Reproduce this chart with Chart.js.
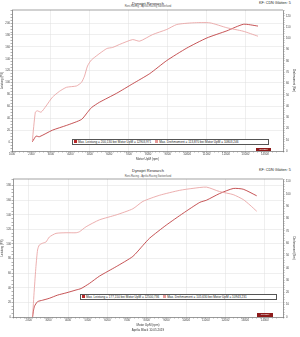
<!DOCTYPE html>
<html>
<head>
<meta charset="utf-8">
<script src="https://cdn.jsdelivr.net/npm/chart.js@4.4.1/dist/chart.umd.min.js"></script>
<style>
  body { margin: 0; background: #fff; }
  #wrap { position: relative; width: 300px; height: 337px; overflow: hidden; font-family: "Liberation Sans", Arial, sans-serif; color: #222; }
  canvas { position: absolute; left: 0; }
  .txt { position: absolute; white-space: nowrap; line-height: 1; }
  .title { font-size: 4px; left: 0; width: 296px; text-align: center; }
  .sub { font-size: 2.6px; left: 0; width: 296px; text-align: center; color: #555; }
  .kf { font-size: 3.7px; left: 259px; }
  .leg { position: absolute; height: 4px; border: 0.5px solid #555; background: #fff; font-size: 3.1px; line-height: 4px; white-space: nowrap; display: flex; align-items: center; }
  .leg i { display: inline-block; width: 3px; height: 3px; margin: 0 1px; }
  .logo { position: absolute; height: 3.5px; background: #8e1b1b; font-size: 2.4px; line-height: 3.5px; color: #fff; text-align: center; font-style: italic; }
</style>
</head>
<body>
<div id="wrap">
  <div class="txt title" style="top:1.5px">Dynojet Research</div>
  <div class="txt sub" style="top:6.2px">Roni-Racing - Aprilia Racing Switzerland</div>
  <div class="txt kf" style="top:1.5px">KF: CDN Glätten: 5</div>
  <canvas id="top" width="300" height="162" style="top:0"></canvas>

  <div class="txt title" style="top:169px">Dynojet Research</div>
  <div class="txt sub" style="top:175.5px">Roni-Racing - Aprilia Racing Switzerland</div>
  <div class="txt kf" style="top:169px">KF: CDN Glätten: 5</div>
  <canvas id="bottom" width="300" height="175" style="top:162px"></canvas>

  <div class="leg" id="legTop" style="left:72px; top:138.5px; width:195px;"></div>
  <div class="leg" id="legBottom" style="left:80px; top:293.5px; width:195px;"></div>

  <div class="logo" style="left:256px; top:147.5px; width:15px;">Dynojet</div>
  <div class="logo" style="left:257px; top:313px; width:16px;">Dynojet</div>
</div>

<script>
// Lauf 1 (oben)
const rpmTopPower = [2046, 2237, 2407, 3077, 3799, 4572, 4881, 5088, 5500, 6376, 7201, 8077, 8954, 9985, 11015, 12046, 12900, 13644];
const powerTop = [0.5, 10, 9, 20, 28, 38, 50, 58, 67, 82, 98, 115, 137, 158, 175, 187, 198, 195];
const rpmTopTorque = [2046, 2200, 2304, 2495, 2753, 3077, 3438, 3799, 4314, 4572, 4727, 4881, 5088, 5866, 6170, 6531, 7201, 7562, 8232, 8954, 9469, 10294, 11170, 12046, 12871, 13644];
const torqueTop = [9, 34.5, 35.7, 34.5, 40, 47.8, 53, 56.6, 57.8, 61, 66.6, 75.5, 81, 91, 92, 94.7, 99, 97.6, 103.5, 108, 112.4, 113.9, 113.9, 109.5, 106.5, 102];

// Lauf 2 (unten)
const rpmBottomPower = [2194, 2281, 2449, 2704, 3046, 3469, 3898, 4408, 4663, 5087, 5597, 6449, 7296, 7806, 8148, 9000, 9847, 10699, 11041, 11699, 12398, 12908, 13592];
const powerBottom = [0, 14, 21, 23, 25.6, 30, 33, 37, 39, 46, 56, 69, 83, 98, 108, 126, 142, 157, 160, 169, 176, 175, 166];
const rpmBottomTorque = [2194, 2281, 2367, 2449, 2536, 2704, 2878, 3046, 3388, 3898, 4408, 4577, 4918, 5597, 6449, 7296, 7806, 8658, 9679, 10357, 11041, 11699, 12398, 12908, 13250, 13592];
const torqueBottom = [0, 22, 41, 54.5, 58.5, 60, 61, 65, 68, 68.5, 68.5, 69.3, 73.4, 79, 83, 88, 94, 99, 103, 104.6, 105.6, 102, 99.5, 95.5, 91, 86];

// Legendentexte
const legendTop = ['Max. Leistung = 200,130 bei Motor UpM = 12903,971', 'Max. Drehmoment = 113,870 bei Motor UpM = 10803,246'];
const legendBottom = ['Max. Leistung = 177,150 bei Motor UpM = 12500,736', 'Max. Drehmoment = 105,630 bei Motor UpM = 10943,231'];

const POWER_COLOR = '#b8282b';
const TORQUE_COLOR = '#e79a9a';

const toPoints = (xs, ys) => xs.map((x, i) => ({ x: x, y: ys[i] }));

// Rahmen oben um die Plotfläche
const frame = {
    id: 'frame',
    afterDraw(chart) {
        const a = chart.chartArea;
        const ctx = chart.ctx;
        ctx.save();
        ctx.strokeStyle = '#666';
        ctx.lineWidth = 0.6;
        ctx.beginPath();
        ctx.moveTo(a.left, a.top);
        ctx.lineTo(a.right, a.top);
        ctx.stroke();
        ctx.restore();
    }
};

function makeChart(id, o) {
    const tickFont = { size: 2.8, family: 'Liberation Sans' };
    return new Chart(document.getElementById(id), {
        type: 'line',
        data: {
            datasets: [
                { data: toPoints(o.rpmT, o.torque), yAxisID: 'yR', borderColor: TORQUE_COLOR, borderWidth: 0.8 },
                { data: toPoints(o.rpmP, o.power), yAxisID: 'yL', borderColor: POWER_COLOR, borderWidth: 0.8 }
            ]
        },
        options: {
            responsive: false,
            animation: false,
            layout: { padding: { top: o.padTop } },
            elements: { point: { radius: 0 }, line: { tension: 0.2 } },
            plugins: { legend: { display: false }, tooltip: { enabled: false } },
            scales: {
                x: {
                    type: 'linear',
                    min: o.xMin,
                    max: o.xMax,
                    afterFit: s => { s.height = o.xHeight; },
                    ticks: {
                        stepSize: 200,
                        autoSkip: false,
                        maxRotation: 0,
                        font: tickFont,
                        color: '#444',
                        padding: 0.5,
                        callback: v => Math.round(v) % 1000 === 0 ? String(Math.round(v)) : ''
                    },
                    grid: {
                        color: c => (c.tick && Math.round(c.tick.value - o.gridStart) % 2000 === 0) ? '#dedede' : 'rgba(0,0,0,0)',
                        tickColor: '#666',
                        tickLength: 1.5,
                        lineWidth: 0.5
                    },
                    border: { color: '#555', width: 0.6 },
                    title: {
                        display: true,
                        text: o.xTitle,
                        font: { size: 3, family: 'Liberation Sans', lineHeight: 1.5 },
                        color: '#333',
                        padding: { top: 0, bottom: o.xTitlePad }
                    }
                },
                yL: {
                    position: 'left',
                    min: o.lMin,
                    max: o.lMax,
                    afterFit: s => { s.width = o.lWidth; },
                    ticks: {
                        stepSize: 5,
                        autoSkip: false,
                        font: tickFont,
                        color: '#444',
                        padding: 0.5,
                        callback: v => (Math.round(v) % 20 === 0 && v >= 0) ? String(Math.round(v)) : ''
                    },
                    grid: {
                        color: c => (c.tick && Math.round(c.tick.value) % 20 === 0 && c.tick.value > 0) ? '#dedede' : 'rgba(0,0,0,0)',
                        tickColor: '#666',
                        tickLength: 1.5,
                        lineWidth: 0.5
                    },
                    border: { color: '#555', width: 0.6 },
                    title: { display: true, text: 'Leistung (PS)', font: { size: 2.8, family: 'Liberation Sans' }, color: '#333', padding: { top: 0.9, bottom: 0 } }
                },
                yR: {
                    position: 'right',
                    min: 0,
                    max: o.rMax,
                    afterFit: s => { s.width = 17; },
                    ticks: {
                        stepSize: 2,
                        autoSkip: false,
                        font: tickFont,
                        color: '#444',
                        padding: 1.5,
                        callback: v => Math.round(v) % 10 === 0 ? String(Math.round(v)) : ''
                    },
                    grid: { drawOnChartArea: false, tickColor: '#666', tickLength: 1.5, lineWidth: 0.5 },
                    border: { color: '#555', width: 0.6 },
                    title: { display: true, text: 'Drehmoment (Nm)', font: { size: 2.8, family: 'Liberation Sans' }, color: '#333', padding: { top: 4.5, bottom: 0 } }
                }
            }
        },
        plugins: [frame]
    });
}

function fillLegend(id, texts) {
    const el = document.getElementById(id);
    el.innerHTML = texts.map((t, i) =>
        `<i style="background:${i === 0 ? POWER_COLOR : TORQUE_COLOR}"></i><span style="margin-right:3px">${t}</span>`
    ).join('');
}

makeChart('top', {
    rpmP: rpmTopPower, power: powerTop, rpmT: rpmTopTorque, torque: torqueTop,
    padTop: 10, xMin: 1000, xMax: 14930, gridStart: 1000, xHeight: 11,
    xTitle: 'Motor UpM (rpm)', xTitlePad: 0.7,
    lMin: -15, lMax: 222, lWidth: 12, rMax: 125.3
});

makeChart('bottom', {
    rpmP: rpmBottomPower, power: powerBottom, rpmT: rpmBottomTorque, torque: torqueBottom,
    padTop: 17, xMin: 1200, xMax: 14930, gridStart: 2000, xHeight: 20,
    xTitle: ['Motor UpM (rpm)', 'Aprilia Black 10.05.2019'], xTitlePad: 4.75,
    lMin: 0, lMax: 189, lWidth: 13, rMax: 112.2
});

fillLegend('legTop', legendTop);
fillLegend('legBottom', legendBottom);
</script>
</body>
</html>
